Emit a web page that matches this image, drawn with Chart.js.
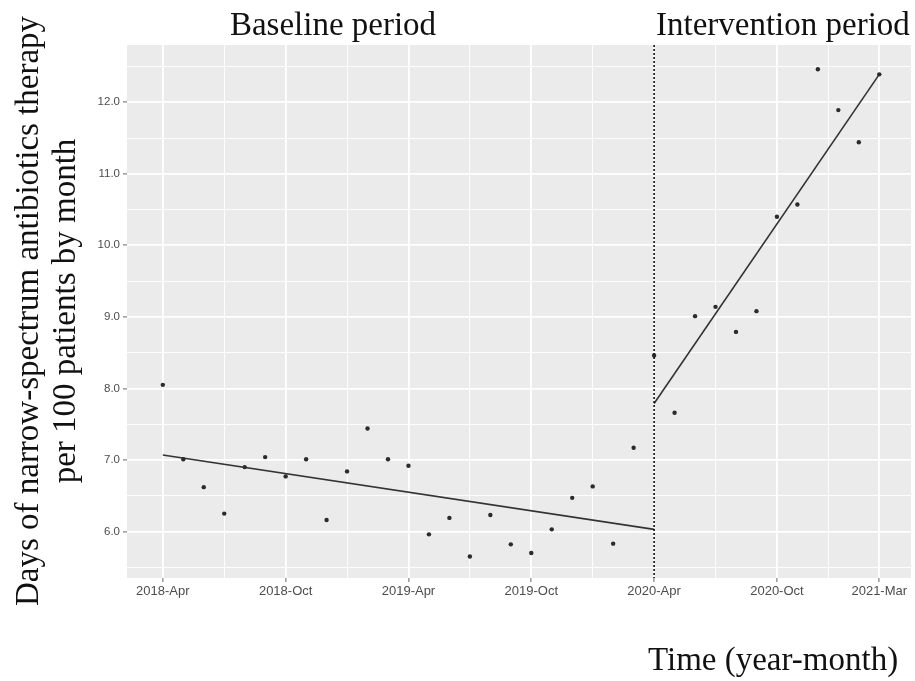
<!DOCTYPE html>
<html>
<head>
<meta charset="utf-8">
<script src="https://cdn.jsdelivr.net/npm/chart.js@4"></script>
<style>
  html, body { margin: 0; padding: 0; background: #fff; }
  #wrap { position: relative; width: 915px; height: 681px; }
</style>
</head>
<body>
<div id="wrap"><canvas id="itsChart" width="915" height="681"></canvas></div>
<script>
// months of the study, one point per month
const monthLabels = [
  '2018-Apr','2018-May','2018-Jun','2018-Jul','2018-Aug','2018-Sep','2018-Oct','2018-Nov','2018-Dec',
  '2019-Jan','2019-Feb','2019-Mar','2019-Apr','2019-May','2019-Jun','2019-Jul','2019-Aug','2019-Sep',
  '2019-Oct','2019-Nov','2019-Dec','2020-Jan','2020-Feb','2020-Mar','2020-Apr','2020-May','2020-Jun',
  '2020-Jul','2020-Aug','2020-Sep','2020-Oct','2020-Nov','2020-Dec','2021-Jan','2021-Feb','2021-Mar'
];
// days of narrow-spectrum antibiotics therapy per 100 patients
const rate = [
  8.05, 7.01, 6.62, 6.25, 6.90, 7.04, 6.77, 7.01, 6.16,
  6.84, 7.44, 7.01, 6.92, 5.96, 6.19, 5.65, 6.23, 5.82,
  5.70, 6.03, 6.47, 6.63, 5.83, 7.17, 8.46, 7.66, 9.01,
  9.14, 8.79, 9.08, 10.40, 10.57, 12.46, 11.89, 11.44, 12.39
];
const interventionStart = '2020-Apr';
// fitted segments (start / end month and value)
const baselineFitMonths = ['2018-Apr', '2020-Apr'];
const baselineFit = [7.07, 6.03];
const interventionFitMonths = ['2020-Apr', '2021-Mar'];
const interventionFit = [7.79, 12.39];

const xTickLabels = ['2018-Apr','2018-Oct','2019-Apr','2019-Oct','2020-Apr','2020-Oct','2021-Mar'];
const yTicks = [6, 7, 8, 9, 10, 11, 12];

const idx = m => monthLabels.indexOf(m);
const xMajor = xTickLabels.map(idx);
const xMinor = xMajor.slice(1).map((v, i) => (v + xMajor[i]) / 2);
const yMinor = [yTicks[0] - 0.5].concat(yTicks.map(v => v + 0.5));

const points = monthLabels.map((m, i) => ({ x: idx(m), y: rate[i] }));
const fitA = baselineFitMonths.map((m, i) => ({ x: idx(m), y: baselineFit[i] }));
const fitB = interventionFitMonths.map((m, i) => ({ x: idx(m), y: interventionFit[i] }));

const panelPlugin = {
  id: 'panel',
  beforeDraw(chart) {
    const a = chart.chartArea, c = chart.ctx;
    c.save();
    c.fillStyle = '#EBEBEB';
    c.fillRect(a.left, a.top, a.right - a.left, a.bottom - a.top);
    c.restore();
  },
  afterDatasetsDraw(chart) {
    const a = chart.chartArea, c = chart.ctx;
    const x = chart.scales.x.getPixelForValue(idx(interventionStart));
    c.save();
    c.strokeStyle = '#111';
    c.lineWidth = 1.6;
    c.setLineDash([2, 2]);
    c.beginPath();
    c.moveTo(x, a.top);
    c.lineTo(x, a.bottom);
    c.stroke();
    c.restore();
  },
  afterDraw(chart) {
    const c = chart.ctx;
    c.save();
    c.fillStyle = '#111';
    c.font = '33px "Liberation Serif", "Times New Roman", serif';
    c.textBaseline = 'alphabetic';
    c.textAlign = 'center';
    c.fillText('Baseline period', 333, 35);
    c.textAlign = 'left';
    c.fillText('Intervention period', 656, 35);
    c.fillText('Time (year-month)', 648, 670);
    c.translate(0, 311);
    c.rotate(-Math.PI / 2);
    c.textAlign = 'center';
    c.fillText('Days of narrow-spectrum antibiotics therapy', 0, 38);
    c.fillText('per 100 patients by month', 0, 75);
    c.restore();
  }
};

const isMajorX = v => xMajor.includes(v);
const isMajorY = v => yTicks.includes(v);

new Chart(document.getElementById('itsChart'), {
  type: 'scatter',
  data: {
    datasets: [
      {
        data: points,
        pointRadius: 2.2,
        pointBackgroundColor: '#2b2b2b',
        pointBorderWidth: 0,
        showLine: false
      },
      {
        data: fitA,
        showLine: true,
        borderColor: '#333',
        borderWidth: 1.6,
        pointRadius: 0
      },
      {
        data: fitB,
        showLine: true,
        borderColor: '#333',
        borderWidth: 1.6,
        pointRadius: 0
      }
    ]
  },
  options: {
    responsive: false,
    animation: false,
    layout: { padding: { left: 0, top: 45, right: 3, bottom: 0 } },
    plugins: { legend: { display: false }, tooltip: { enabled: false } },
    scales: {
      x: {
        type: 'linear',
        min: -1.75,
        max: 36.55,
        border: { display: false },
        afterBuildTicks: s => { s.ticks = xMajor.concat(xMinor).sort((a, b) => a - b).map(v => ({ value: v })); },
        afterFit: s => { s.height = 103; },
        grid: {
          color: '#fff',
          lineWidth: c => isMajorX(c.tick.value) ? 1.8 : 0.9,
          tickLength: 4,
          tickWidth: 1,
          tickColor: c => isMajorX(c.tick.value) ? '#666' : 'rgba(0,0,0,0)'
        },
        ticks: {
          autoSkip: false,
          maxRotation: 0,
          padding: 2,
          color: '#4d4d4d',
          font: { family: '"Liberation Sans", Arial, sans-serif', size: 13 },
          callback: v => isMajorX(v) ? xTickLabels[xMajor.indexOf(v)] : ''
        }
      },
      y: {
        min: 5.35,
        max: 12.8,
        border: { display: false },
        afterBuildTicks: s => { s.ticks = yTicks.concat(yMinor).sort((a, b) => a - b).map(v => ({ value: v })); },
        afterFit: s => { s.width = 127; },
        grid: {
          color: '#fff',
          lineWidth: c => isMajorY(c.tick.value) ? 1.8 : 0.9,
          tickLength: 4,
          tickWidth: 1,
          tickColor: c => isMajorY(c.tick.value) ? '#666' : 'rgba(0,0,0,0)'
        },
        ticks: {
          autoSkip: false,
          padding: 3,
          color: '#4d4d4d',
          font: { family: '"Liberation Sans", Arial, sans-serif', size: 11.5 },
          callback: v => isMajorY(v) ? v.toFixed(1) : ''
        }
      }
    }
  },
  plugins: [panelPlugin]
});
</script>
</body>
</html>
